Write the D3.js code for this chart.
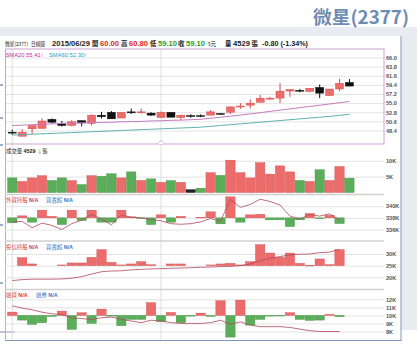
<!DOCTYPE html>
<html>
<head>
<meta charset="utf-8">
<script src="https://cdn.jsdelivr.net/npm/d3@7"></script>
<style>
  body { margin: 0; background: #fff; }
  svg { display: block; font-family: "Liberation Sans", sans-serif; }
  .cjk { font-family: "Noto Sans CJK TC", sans-serif; }
  .axis path { display: none; }
  .axis text { font-size: 5.6px; font-weight: bold; fill: #555; font-family: "Liberation Sans", sans-serif; }
  .grid path { display: none; }
  .grid line { stroke: #dcdcdc; stroke-width: 0.8; }
</style>
</head>
<body>
<svg id="chart" width="417" height="351"></svg>
<script>
/* ---------- data ---------- */
const dates = ["05/11", "05/12", "05/13", "05/14", "05/15", "05/18", "05/19", "05/20", "05/21", "05/22",
    "05/25", "05/26", "05/27", "05/28", "05/29", "06/01", "06/02", "06/03", "06/04", "06/05",
    "06/08", "06/09", "06/10", "06/11", "06/12", "06/15", "06/16", "06/17", "06/18", "06/22",
    "06/23", "06/24", "06/25", "06/26", "06/29"];
const open  = [48.0, 47.0, 48.8, 48.9, 51.1, 50.0, 49.6, 50.8, 50.1, 52.1, 52.8, 51.4, 52.9, 52.8, 52.6, 51.5, 52.8, 51.5,
    52.0, 52.0, 52.1, 52.5, 52.8, 54.1, 54.5, 55.2, 56.1, 56.2, 57.9, 58.1, 57.8, 58.8, 56.8, 58.4, 60.0];
const high  = [48.6, 48.7, 49.7, 51.3, 51.3, 50.7, 50.9, 50.8, 52.3, 52.9, 53.1, 52.8, 53.7, 53.7, 52.8, 53.0, 52.8, 52.2,
    52.3, 52.3, 53.3, 52.6, 54.2, 55.0, 55.9, 57.0, 56.5, 59.8, 58.3, 58.4, 58.6, 59.5, 58.4, 60.8, 60.8];
const low   = [47.4, 47.0, 47.6, 48.9, 50.1, 49.4, 49.4, 49.4, 49.6, 51.3, 51.2, 51.4, 52.4, 52.5, 51.9, 51.5, 51.6, 50.9,
    51.5, 51.6, 52.1, 52.3, 52.4, 53.6, 53.7, 55.2, 55.9, 55.0, 56.5, 57.6, 57.6, 56.2, 56.8, 57.9, 59.1];
const close = [47.9, 48.0, 49.6, 50.7, 50.4, 49.6, 50.5, 50.2, 52.1, 51.7, 51.2, 52.8, 52.8, 52.9, 52.1, 52.8, 51.6, 52.1,
    52.0, 51.9, 52.9, 52.4, 54.1, 54.3, 55.0, 56.2, 56.2, 57.9, 58.3, 58.0, 58.6, 57.4, 58.4, 59.8, 59.1];
const sma20 = [49.6, 49.7, 49.8, 49.9, 50.0, 50.1, 50.2, 50.25, 50.3, 50.35, 50.4, 50.5, 50.55, 50.6, 50.7, 50.75, 50.85,
    50.9, 51.0, 51.1, 51.35, 51.6, 51.85, 52.1, 52.4, 52.7, 53.0, 53.3, 53.6, 53.9, 54.2, 54.5, 54.8, 55.1, 55.41];
const sma60 = [47.3, 47.4, 47.5, 47.6, 47.7, 47.8, 47.9, 48.0, 48.1, 48.2, 48.3, 48.4, 48.5, 48.6, 48.7, 48.8, 48.9,
    49.0, 49.1, 49.2, 49.4, 49.6, 49.8, 50.0, 50.2, 50.4, 50.6, 50.8, 51.0, 51.2, 51.4, 51.6, 51.8, 52.05, 52.3];
const volume = [4600, 3500, 4600, 5300, 3800, 4600, 3750, 2500, 5300, 5100, 5900, 4600, 6500, 3800, 4300, 3200, 3750,
    3200, 900, 1350, 6250, 5400, 10200, 6250, 4600, 9400, 5800, 8400, 6500, 3800, 3500, 7200, 3800, 8200, 4529];
// 外資 buy/sell (張) and holdings
const foreignNet = [-500, 200, -430, 770, 150, -670, 770, -270, 770, -430, -430, 770, 100, -60, -670, 300, -430, 150,
    0, 50, 600, -600, 2100, -430, 300, 350, -200, -200, -870, -200, 430, -70, 250, -570, null];
const foreignHold = [337300, 337400, 336300, 337100, 336700, 336000, 337000, 337600, 338600, 337800, 336800, 338500,
    338100, 338000, 337700, 337500, 337000, 336900, 337000, 337300, 337900, 337400, 341200, 339800, 340300, 341200,
    340800, 340200, 338300, 337800, 338600, 338300, 338700, 337600, null];
// 投信 buy/sell and holdings
const trustNet = [0, 800, 170, 0, 0, 70, 270, 270, 830, 1600, 330, 70, 170, 400, 100, 0, 170, 170, 0, 0, 70, 170,
    230, 70, 400, 2100, 1260, 830, 1260, 230, 30, 670, 100, 1600, null];
const trustHold = [18600, 19000, 19200, 19200, 19200, 19300, 19600, 20300, 21400, 22400, 22700, 22800, 23200, 23400,
    23600, 23700, 23900, 24000, 24100, 24300, 24400, 24600, 24700, 25000, 25700, 27100, 28200, 28900, 29600, 29900,
    30000, 30600, 30800, 32000, null];
// 融資 change and balance
const marginNet = [330, -470, -900, -730, -100, 430, -1400, 270, -800, 630, -70, -1030, -400, -400, 1270, -630, 300,
    -730, -70, 230, -100, 1470, -2170, 1530, -970, -400, -70, -30, 270, -400, -500, -470, 100, -130, null];
const marginBal = [11200, 10900, 10700, 10400, 10200, 10100, 9700, 9600, 9500, 9700, 9800, 9500, 9300, 9100, 9400,
    9300, 9100, 9000, 9000, 9000, 9100, 9400, 8900, 9200, 8800, 8600, 8600, 8600, 8500, 8300, 8100, 8000, 8000, 8000, null];

const priceTicks = [66.0, 63.8, 61.6, 59.4, 57.2, 55.0, 52.8, 50.6, 48.4];
const volTicks = [10000, 5000];
const foreignTicks = [340000, 338000, 336000];
const trustTicks = [30000, 25000, 20000];
const marginTicks = [12000, 11000, 10000, 9000, 8000];
const vLineDates = ["05/11", "06/01"];

/* ---------- setup ---------- */
const svg = d3.select("#chart");
const L = 5, R = 384;
const RED = "#ec6b6b", RED_S = "#cf4b4b", GREEN = "#5aae5a", GREEN_S = "#3f8f3f";
const kFmt = d => d / 1000 + "K";

const x = d3.scaleBand().domain(dates).range([7.6, 354.1]).paddingInner(0.06);
const bw = x.bandwidth();
const cx = d => x(d) + bw / 2;

const yPrice = d3.scaleLinear().domain([48.4, 66.0]).range([130.5, 57.5]);
const yVol = d3.scaleLinear().domain([0, 10000]).range([192.5, 160.8]);
const yForeign = d3.scaleLinear().domain([336000, 340000]).range([229.5, 206.2]);
const yForeignNet = d3.scaleLinear().domain([0, 1000]).range([yForeign(338000), yForeign(338000) - 10]);
const yTrust = d3.scaleLinear().domain([20000, 30000]).range([277.3, 254]);
const yTrustNet = d3.scaleLinear().domain([0, 1000]).range([yTrust(25000), yTrust(25000) - 10]);
const yMargin = d3.scaleLinear().domain([8000, 12000]).range([331.5, 299.3]);
const yMarginNet = d3.scaleLinear().domain([0, 1000]).range([yMargin(10000), yMargin(10000) - 10]);

/* ---------- frame ---------- */
svg.append("rect").attr("x", 0).attr("y", 27).attr("width", 417).attr("height", 9).attr("fill", "#e8ecf1");
svg.append("rect").attr("x", 401).attr("y", 36).attr("width", 16).attr("height", 294).attr("fill", "#e8ecf1");
svg.append("line").attr("x1", 401).attr("x2", 401).attr("y1", 36).attr("y2", 340.5)
    .attr("stroke", "#7f98b8").attr("stroke-width", 1);
svg.append("line").attr("x1", L).attr("x2", 401.5).attr("y1", 340.5).attr("y2", 340.5)
    .attr("stroke", "#7f98b8").attr("stroke-width", 1);
svg.append("line").attr("x1", L + 0.5).attr("x2", L + 0.5).attr("y1", 49).attr("y2", 340.5)
    .attr("stroke", "#b9aec4");

// small marks at the far left edge
svg.append("g").selectAll("line").data([85, 118, 145, 225, 283]).join("line")
    .attr("x1", 0).attr("x2", 3).attr("y1", d => d).attr("y2", d => d)
    .attr("stroke", "#3c5f90").attr("stroke-width", 1);
svg.append("line").attr("x1", 0).attr("x2", 15).attr("y1", 332).attr("y2", 332)
    .attr("stroke", "#55708f").attr("stroke-width", 0.8);

/* ---------- grids ---------- */
function grid(scale, ticks) {
    svg.append("g").attr("class", "grid").attr("transform", `translate(${R},0)`)
        .call(d3.axisLeft(scale).tickValues(ticks).tickSize(R - L).tickFormat(""));
}
function labels(scale, ticks, fmt) {
    svg.append("g").attr("class", "axis").attr("transform", `translate(${R},0)`)
        .call(d3.axisRight(scale).tickValues(ticks).tickSize(0).tickPadding(2).tickFormat(fmt));
}
grid(yPrice, priceTicks);
grid(yVol, volTicks);
grid(yForeign, foreignTicks);
grid(yTrust, trustTicks);
grid(yMargin, marginTicks);

svg.append("g").selectAll("line").data(vLineDates).join("line")
    .attr("x1", d => cx(d)).attr("x2", d => cx(d)).attr("y1", 49).attr("y2", 340)
    .attr("stroke", "#d6d6d6").attr("stroke-width", 0.8);

// panel separators
svg.append("g").selectAll("line").data([194.5, 241, 289.5]).join("line")
    .attr("x1", L).attr("x2", R).attr("y1", d => d).attr("y2", d => d)
    .attr("stroke", "#d0d0d0").attr("stroke-width", 1.6);

/* ---------- price panel ---------- */
const candles = dates.map((d, i) => ({d, o: open[i], h: high[i], l: low[i], c: close[i]}));
const up = k => k.c > k.o;

const gC = svg.append("g");
gC.selectAll("line").data(candles).join("line")
    .attr("x1", k => cx(k.d)).attr("x2", k => cx(k.d))
    .attr("y1", k => yPrice(k.h)).attr("y2", k => yPrice(k.l))
    .attr("stroke", k => up(k) ? RED_S : "#111").attr("stroke-width", 1);
gC.selectAll("rect").data(candles).join("rect")
    .attr("x", k => x(k.d) + 0.6).attr("width", bw - 1.2)
    .attr("y", k => yPrice(Math.max(k.o, k.c)))
    .attr("height", k => Math.max(1, Math.abs(yPrice(k.o) - yPrice(k.c))))
    .attr("fill", k => up(k) ? RED : "#111")
    .attr("stroke", k => up(k) ? RED_S : "#111").attr("stroke-width", 0.4);

const smaLine = d3.line().x((v, i) => cx(dates[i])).y(v => yPrice(v));
svg.append("path").attr("d", smaLine(sma60)).attr("fill", "none").attr("stroke", "#5fb2b0").attr("stroke-width", 1);
svg.append("path").attr("d", smaLine(sma20)).attr("fill", "none").attr("stroke", "#c37dc0").attr("stroke-width", 1);

svg.append("rect").attr("x", L + 0.5).attr("y", 49).attr("width", R - L - 0.5).attr("height", 95)
    .attr("fill", "none").attr("stroke", "#c9a4d1").attr("stroke-width", 1);
svg.append("path").attr("d", `M${cx("06/01") - 4},144 L${cx("06/01")},140.6 L${cx("06/01") + 4},144`)
    .attr("fill", "#fff").attr("stroke", "#c9a4d1").attr("stroke-width", 0.8);

/* ---------- volume ---------- */
svg.append("g").selectAll("rect").data(candles.map((k, i) => ({...k, v: volume[i]}))).join("rect")
    .attr("x", k => x(k.d)).attr("width", bw)
    .attr("y", k => yVol(k.v)).attr("height", k => yVol(0) - yVol(k.v))
    .attr("fill", k => k.c > k.o ? RED : k.c < k.o ? GREEN : "#222")
    .attr("stroke", k => k.c > k.o ? RED_S : k.c < k.o ? GREEN_S : "#111").attr("stroke-width", 0.4);

/* ---------- net bars + holding lines ---------- */
function netPanel(net, hold, yNet, yHold) {
    const rows = dates.map((d, i) => ({d, n: net[i], h: hold[i]}));
    svg.append("g").selectAll("rect").data(rows.filter(r => r.n !== null && r.n !== 0)).join("rect")
        .attr("x", r => x(r.d)).attr("width", bw)
        .attr("y", r => Math.min(yNet(r.n), yNet(0)))
        .attr("height", r => Math.max(0.6, Math.abs(yNet(r.n) - yNet(0))))
        .attr("fill", r => r.n > 0 ? RED : GREEN)
        .attr("stroke", r => r.n > 0 ? RED_S : GREEN_S).attr("stroke-width", 0.4);
    const line = d3.line().defined(r => r.h !== null).x(r => cx(r.d)).y(r => yHold(r.h));
    svg.append("path").attr("d", line(rows)).attr("fill", "none")
        .attr("stroke", "#b04a5e").attr("stroke-width", 0.9).attr("stroke-opacity", 0.9);
}
netPanel(foreignNet, foreignHold, yForeignNet, yForeign);
netPanel(trustNet, trustHold, yTrustNet, yTrust);
netPanel(marginNet, marginBal, yMarginNet, yMargin);

/* ---------- axis labels ---------- */
labels(yPrice, priceTicks, d3.format(".1f"));
labels(yVol, volTicks, kFmt);
labels(yForeign, foreignTicks, kFmt);
labels(yTrust, trustTicks, kFmt);
labels(yMargin, marginTicks, kFmt);

/* ---------- texts ---------- */
svg.append("text").attr("class", "cjk").attr("x", 409).attr("y", 24).attr("text-anchor", "end")
    .attr("font-size", 18).attr("font-weight", "bold").attr("fill", "#6d8cb3")
    .attr("textLength", 96).attr("lengthAdjust", "spacingAndGlyphs").text("微星(2377)");

function txt(s, px, py, o = {}) {
    const t = svg.append("text").attr("x", px).attr("y", py)
        .attr("class", o.cjk ? "cjk" : null)
        .attr("font-size", o.size || 7.6).attr("font-weight", o.bold ? "bold" : "normal")
        .attr("fill", o.fill || "#222").text(s);
    if (o.len) t.attr("textLength", o.len).attr("lengthAdjust", "spacingAndGlyphs");
    return t;
}
const HY = 46;
txt("微星(2377)", 5, HY, {cjk: true, size: 5.4, len: 23});
txt("日線圖", 31, HY, {cjk: true, size: 5.4, len: 14});
txt("2015/06/29", 52, HY, {bold: true});
txt("開", 92, HY, {cjk: true, size: 6.4, bold: true});
txt("60.00", 100, HY, {bold: true, fill: "#e02424"});
txt("高", 121, HY, {cjk: true, size: 6.4, bold: true});
txt("60.80", 129, HY, {bold: true, fill: "#e02424"});
txt("低", 150, HY, {cjk: true, size: 6.4, bold: true});
txt("59.10", 158, HY, {bold: true, fill: "#1e9e2a"});
txt("收", 178, HY, {cjk: true, size: 6.4, bold: true});
txt("59.10", 186, HY, {bold: true, fill: "#1e9e2a"});
txt("s元", 208, HY, {cjk: true, size: 5.6});
txt("量", 225, HY, {cjk: true, size: 6.4, bold: true});
txt("4529", 233, HY, {bold: true});
txt("張", 251.5, HY, {cjk: true, size: 6.4, bold: true});
txt("-0.80 (-1.34%)", 262, HY, {bold: true, size: 7.2});

const sm1 = txt("SMA20 55.41", 5.5, 56.5, {size: 5.8, fill: "#c0309a"});
sm1.append("tspan").attr("fill", "#e02424").text("↑");
const sm2 = txt("SMA60 52.30", 49, 56.5, {size: 5.8, fill: "#2a9fc0"});
sm2.append("tspan").attr("fill", "#e02424").text("↑");

const vl = txt("成交量 ", 6, 152.5, {cjk: true, size: 5.4});
vl.append("tspan").attr("font-family", "Liberation Sans").attr("font-weight", "bold").text("4529 ");
vl.append("tspan").attr("fill", "#1e9e2a").text("↓");
vl.append("tspan").text("張");

function panelLabel(a, b, py, bx) {
    const t1 = txt(a, 6, py, {cjk: true, size: 5.4, fill: "#d23a3a"});
    t1.append("tspan").attr("font-family", "Liberation Sans").attr("font-weight", "bold").text(" N/A");
    const t2 = txt(b, bx, py, {cjk: true, size: 5.4, fill: "#3678bf"});
    t2.append("tspan").attr("font-family", "Liberation Sans").attr("font-weight", "bold").text(" N/A");
}
panelLabel("外資持股", "買賣超", 201.5, 46);
panelLabel("投信持股", "買賣超", 249, 46);
panelLabel("融資", "融券", 297, 36);
</script>
</body>
</html>
